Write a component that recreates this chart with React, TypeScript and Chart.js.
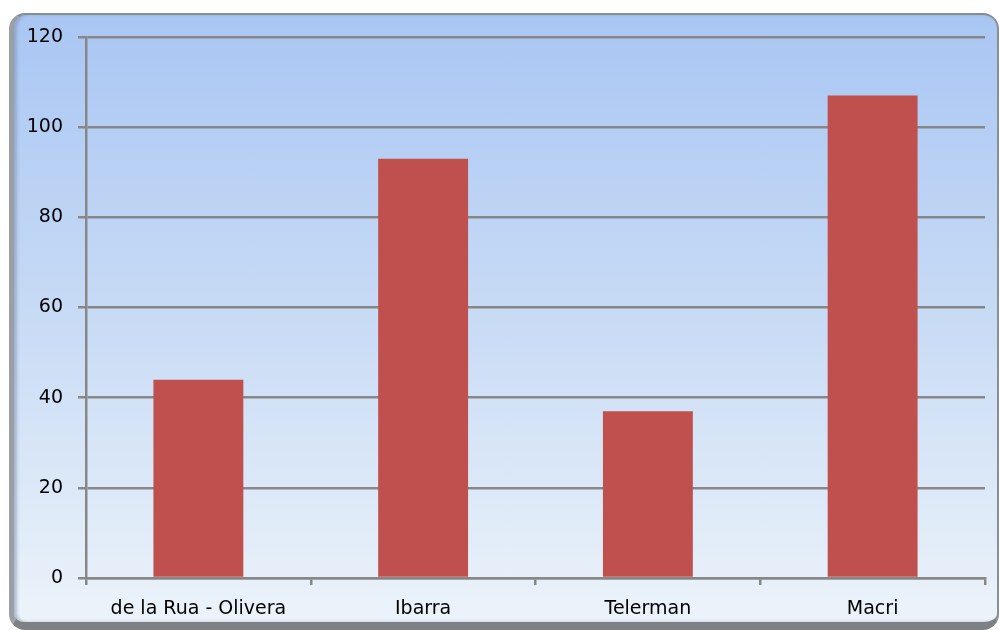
import React, { useEffect, useRef } from "react";
import { Chart, registerables } from "chart.js";

Chart.register(...registerables);

const categories = ["de la Rua - Olivera", "Ibarra", "Telerman", "Macri"];
const values = [44, 93, 37, 107];
const yTicks = [0, 20, 40, 60, 80, 100, 120];

export default function App() {
  const ref = useRef<HTMLCanvasElement | null>(null);
  useEffect(() => {
    if (!ref.current) return;
    const font = { family: "DejaVu Sans", size: 19 };
    const chart = new Chart(ref.current, {
      type: "bar",
      data: {
        labels: categories,
        datasets: [
          {
            data: values,
            backgroundColor: "#c0504d",
            barPercentage: 0.4,
            categoryPercentage: 1,
          },
        ],
      },
      options: {
        animation: false,
        responsive: false,
        devicePixelRatio: 1,
        layout: { padding: { top: 37, right: 14, bottom: 0, left: 0 } },
        plugins: { legend: { display: false }, tooltip: { enabled: false } },
        scales: {
          x: {
            grid: {
              display: true,
              drawOnChartArea: false,
              drawTicks: true,
              tickLength: 7,
              color: "#878787",
              lineWidth: 2.5,
              offset: true,
            },
            border: { display: true, color: "#878787", width: 2.5 },
            ticks: { color: "#000", font, padding: 13, maxRotation: 0 },
            afterFit: (s: any) => {
              s.height = 52;
            },
          },
          y: {
            min: 0,
            max: 120,
            afterBuildTicks: (s: any) => {
              s.ticks = yTicks.map((v) => ({ value: v }));
            },
            grid: {
              color: "#878787",
              lineWidth: 2.5,
              drawTicks: true,
              tickLength: 8,
            },
            border: { display: true, color: "#878787", width: 2.5 },
            ticks: { color: "#000", font, padding: 15 },
            afterFit: (s: any) => {
              s.width = 86;
            },
          },
        },
      },
    });
    return () => chart.destroy();
  }, []);

  return (
    <div style={{ position: "absolute", left: 0, top: 0, width: 999, height: 630, background: "#fff", overflow: "hidden" }}>
      <div
        style={{
          position: "absolute",
          left: 9,
          top: 13,
          width: 990,
          height: 617,
          boxSizing: "border-box",
          borderStyle: "solid",
          borderColor: "#888c93 #8a8e95 #7d8085 #9a9ea5",
          borderWidth: "2px 2px 8px 5px",
          borderRadius: 16,
          background: "linear-gradient(to bottom, #a9c6f3 0%, #c8dbf5 50%, #ecf3fa 100%)",
          boxShadow: "inset 3px 0 3px rgba(120,140,170,0.5)",
        }}
      />
      <canvas ref={ref} width={999} height={630} style={{ position: "absolute", left: 0, top: 0 }} />
    </div>
  );
}
